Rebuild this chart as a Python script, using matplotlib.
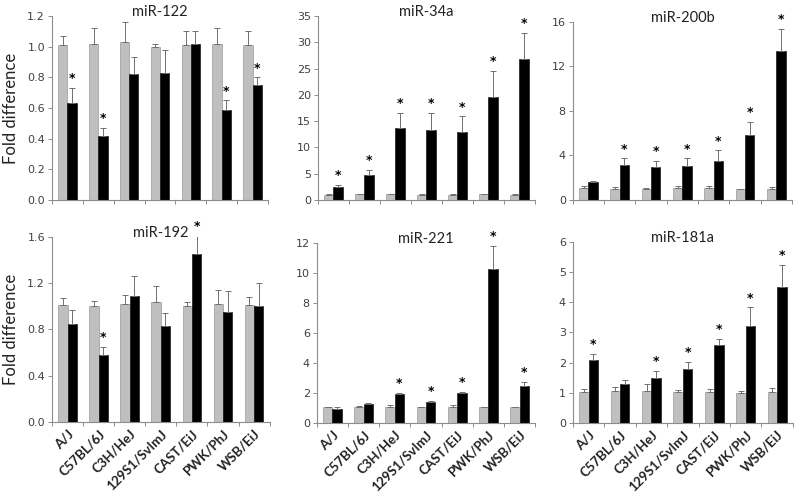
import matplotlib
matplotlib.use("Agg")
import matplotlib.pyplot as plt
from matplotlib.ticker import FixedLocator, FormatStrFormatter
import numpy as np

strains = ["A/J", "C57BL/6J", "C3H/HeJ", "129S1/SvImJ", "CAST/EiJ", "PWK/PhJ", "WSB/EiJ"]

# miR-122
mir122_ctrl = [1.01, 1.02, 1.03, 1.00, 1.01, 1.02, 1.01]
mir122_ctrl_err = [0.06, 0.10, 0.13, 0.02, 0.09, 0.10, 0.09]
mir122_trt = [0.63, 0.42, 0.82, 0.83, 1.02, 0.59, 0.75]
mir122_trt_err = [0.10, 0.05, 0.11, 0.15, 0.08, 0.06, 0.05]
mir122_sig = [1, 1, 0, 0, 0, 1, 1]

# miR-34a
mir34a_ctrl = [1.0, 1.1, 1.1, 1.0, 1.0, 1.1, 1.0]
mir34a_ctrl_err = [0.1, 0.1, 0.1, 0.1, 0.1, 0.1, 0.1]
mir34a_trt = [2.4, 4.8, 13.6, 13.4, 12.9, 19.5, 26.8]
mir34a_trt_err = [0.5, 1.0, 2.9, 3.2, 3.0, 5.1, 5.0]
mir34a_sig = [1, 1, 1, 1, 1, 1, 1]

# miR-200b
mir200b_ctrl = [1.05, 1.0, 1.0, 1.05, 1.05, 0.95, 1.0]
mir200b_ctrl_err = [0.25, 0.2, 0.1, 0.25, 0.2, 0.05, 0.2]
mir200b_trt = [1.6, 3.15, 2.95, 3.05, 3.5, 5.85, 13.4]
mir200b_trt_err = [0.15, 0.6, 0.55, 0.7, 0.95, 1.2, 2.0]
mir200b_sig = [0, 1, 1, 1, 1, 1, 1]

# miR-192
mir192_ctrl = [1.01, 1.00, 1.02, 1.04, 1.00, 1.02, 1.01]
mir192_ctrl_err = [0.06, 0.05, 0.08, 0.14, 0.04, 0.12, 0.07]
mir192_trt = [0.85, 0.58, 1.09, 0.83, 1.45, 0.95, 1.00]
mir192_trt_err = [0.12, 0.07, 0.17, 0.11, 0.16, 0.18, 0.20]
mir192_sig = [0, 1, 0, 0, 1, 0, 0]

# miR-221
mir221_ctrl = [1.05, 1.05, 1.05, 1.05, 1.05, 1.05, 1.05]
mir221_ctrl_err = [0.05, 0.1, 0.15, 0.05, 0.17, 0.05, 0.05]
mir221_trt = [0.92, 1.25, 1.95, 1.38, 1.98, 10.25, 2.45]
mir221_trt_err = [0.13, 0.1, 0.05, 0.12, 0.12, 1.55, 0.3]
mir221_sig = [0, 0, 1, 1, 1, 1, 1]

# miR-181a
mir181a_ctrl = [1.02, 1.05, 1.05, 1.02, 1.02, 1.0, 1.02]
mir181a_ctrl_err = [0.1, 0.13, 0.23, 0.08, 0.1, 0.05, 0.13]
mir181a_trt = [2.08, 1.28, 1.5, 1.8, 2.57, 3.22, 4.5]
mir181a_trt_err = [0.22, 0.14, 0.23, 0.22, 0.23, 0.61, 0.75]
mir181a_sig = [1, 0, 1, 1, 1, 1, 1]

panels = [
    ("miR-122", mir122_ctrl, mir122_ctrl_err, mir122_trt, mir122_trt_err, mir122_sig,
     np.arange(0, 1.21, 0.2), "%.1f", [0.065, 0.5935, 0.27, 0.374]),
    ("miR-34a", mir34a_ctrl, mir34a_ctrl_err, mir34a_trt, mir34a_trt_err, mir34a_sig,
     np.arange(0, 36, 5), "%d", [0.3975, 0.5935, 0.271, 0.374]),
    ("miR-200b", mir200b_ctrl, mir200b_ctrl_err, mir200b_trt, mir200b_trt_err, mir200b_sig,
     np.arange(0, 17, 4), "%d", [0.716, 0.5935, 0.274, 0.362]),
    ("miR-192", mir192_ctrl, mir192_ctrl_err, mir192_trt, mir192_trt_err, mir192_sig,
     np.arange(0, 1.61, 0.4), "%.1f", [0.065, 0.1423, 0.272, 0.376]),
    ("miR-221", mir221_ctrl, mir221_ctrl_err, mir221_trt, mir221_trt_err, mir221_sig,
     np.arange(0, 13, 2), "%d", [0.396, 0.1402, 0.273, 0.366]),
    ("miR-181a", mir181a_ctrl, mir181a_ctrl_err, mir181a_trt, mir181a_trt_err, mir181a_sig,
     np.arange(0, 7, 1), "%d", [0.716, 0.1402, 0.275, 0.368]),
]

GRAY = "#bfbfbf"
AXCOL = "#8c8c8c"
TXT = "#404040"

fig = plt.figure(figsize=(8, 4.92), dpi=100)

for idx, (name, ctrl, cerr, trt, terr, sig, yticks, fmt, rect) in enumerate(panels):
    ax = fig.add_axes(rect)
    x = np.arange(len(strains))
    w = 0.3
    err_kw = dict(ecolor="#6f6f6f", elinewidth=0.7, capsize=2.2, capthick=0.7)
    ax.bar(x - w / 2, ctrl, w, color=GRAY, edgecolor="#999999", linewidth=0.5,
           yerr=[np.zeros(len(ctrl)), cerr], error_kw=err_kw)
    ax.bar(x + w / 2, trt, w, color="black", edgecolor="black", linewidth=0.4,
           yerr=[np.zeros(len(trt)), terr], error_kw=err_kw)

    ymax = yticks[-1]
    for i in range(len(strains)):
        if sig[i]:
            ax.text(x[i] + w / 2, trt[i] + terr[i] + ymax * 0.015, "*",
                    ha="center", va="bottom", fontsize=9, fontweight="bold")

    ax.set_xlim(-0.5, len(strains) - 0.5)
    ax.set_ylim(0, ymax)
    ax.set_yticks(yticks)
    ax.yaxis.set_major_formatter(FormatStrFormatter(fmt))
    ax.xaxis.set_minor_locator(FixedLocator(np.arange(-0.5, len(strains), 1.0)))
    ax.tick_params(axis="x", which="minor", length=3, color=AXCOL, width=0.7)
    ax.tick_params(axis="y", length=3, color=AXCOL, width=0.7, labelsize=8,
                   labelcolor=TXT, pad=2)
    for sp in ("top", "right"):
        ax.spines[sp].set_visible(False)
    for sp in ("left", "bottom"):
        ax.spines[sp].set_color(AXCOL)
        ax.spines[sp].set_linewidth(0.8)

    if idx >= 3:
        ax.set_xticks(x)
        ax.set_xticklabels(strains, rotation=45, ha="right", rotation_mode="anchor",
                           fontsize=9.5, fontfamily="Lato", fontweight="bold", color="#222222")
        ax.tick_params(axis="x", which="major", length=0, pad=4)
    else:
        ax.set_xticks([])

    ax.text(0.5, 1.02, name, transform=ax.transAxes, ha="center", va="center",
            fontsize=10.5, fontfamily="Lato", color="#222222")
    if idx % 3 == 0:
        ax.set_ylabel("Fold difference", fontsize=12, fontfamily="Lato",
                      color="#222222", labelpad=6)

fig.savefig("out.png", dpi=100)
